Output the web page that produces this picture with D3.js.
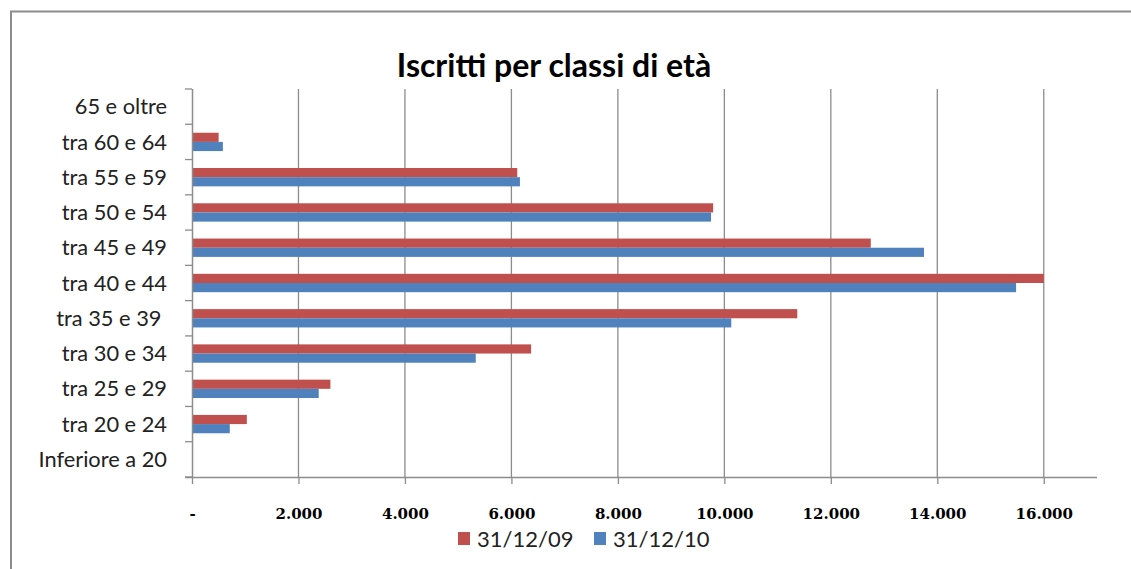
<!DOCTYPE html>
<html>
<head>
<meta charset="utf-8">
<script src="https://cdn.jsdelivr.net/npm/d3@7"></script>
<style>
  html, body { margin: 0; padding: 0; background: #ffffff; overflow: hidden; }
  svg { display: block; }
</style>
</head>
<body>
<svg id="chart" width="1131" height="569"></svg>
<script>
// ---- data ----
const categories = ["65 e oltre", "tra 60 e 64", "tra 55 e 59", "tra 50 e 54", "tra 45 e 49",
  "tra 40 e 44", "tra 35 e 39 ", "tra 30 e 34", "tra 25 e 29", "tra 20 e 24", "Inferiore a 20"];
const seriesNames = ["31/12/09", "31/12/10"];
const values2009 = [0, 500, 6110, 9790, 12750, 16000, 11370, 6370, 2600, 1030, 0];
const values2010 = [0, 580, 6160, 9750, 13750, 15480, 10130, 5330, 2380, 710, 0];
const xTicks = [0, 2000, 4000, 6000, 8000, 10000, 12000, 14000, 16000];
const xTickLabels = ["-", "2.000", "4.000", "6.000", "8.000", "10.000", "12.000", "14.000", "16.000"];
const title = "Iscritti per classi di età";
const colors = ["#C0504D", "#4F81BD"];

(function () {
const svg = d3.select("#chart");

// frame (only left and top edges visible in the picture)
svg.append("path").attr("d", "M11,569V11.5H1131")
  .attr("fill", "none").attr("stroke", "#8c8c8c").attr("stroke-width", 2);

const pLeft = 192, pRight = 1097, pTop = 89, pBottom = 477;

const x = d3.scaleLinear().domain([0, 17000]).range([pLeft, pRight]);
const y = d3.scaleBand().domain(categories).range([pTop, pBottom]).paddingInner(0.48).paddingOuter(0.24);
const ySub = d3.scaleBand().domain(seriesNames).range([0, y.bandwidth()]);
const yCat = d3.scaleBand().domain(categories).range([pTop, pBottom]);

// gridlines
svg.append("g").selectAll("line").data(xTicks.slice(1)).join("line")
  .attr("x1", d => x(d)).attr("x2", d => x(d))
  .attr("y1", pTop).attr("y2", pBottom)
  .attr("stroke", "#8c8c8c").attr("stroke-width", 1.3);

// bars
const rows = categories.map((c, i) => ({ c, vals: [values2009[i], values2010[i]] }));
const g = svg.append("g");
rows.forEach(r => {
  r.vals.forEach((v, j) => {
    if (v <= 0) return;
    g.append("rect")
      .attr("x", x(0))
      .attr("y", y(r.c) + ySub(seriesNames[j]))
      .attr("width", x(v) - x(0))
      .attr("height", ySub.bandwidth())
      .attr("fill", colors[j]);
  });
});

// x axis
const xAxis = d3.axisBottom(x).tickValues(xTicks).tickSize(7).tickFormat((d, i) => xTickLabels[i]);
const gx = svg.append("g").attr("transform", `translate(0,${pBottom})`).call(xAxis);
gx.select(".domain").attr("d", `M${pLeft - 7},0.5H${pRight}`).attr("stroke", "#8c8c8c").attr("stroke-width", 1.5);
gx.selectAll(".tick line").attr("stroke", "#8c8c8c").attr("stroke-width", 1.3);
gx.selectAll(".tick text").attr("dy", 0).attr("y", 42)
  .attr("font-family", "'DejaVu Serif', serif").attr("font-weight", "bold")
  .attr("font-size", 15).attr("fill", "#000");

// y axis
const yAxis = d3.axisLeft(yCat).tickSize(0).tickPadding(25);
const gy = svg.append("g").attr("transform", `translate(${pLeft},0)`).call(yAxis);
gy.select(".domain").attr("d", `M0.5,${pTop}V${pBottom}`).attr("stroke", "#8c8c8c").attr("stroke-width", 1.5);
gy.selectAll(".tick text").attr("font-family", "Lato, 'Open Sans', sans-serif")
  .attr("font-size", 21.8).attr("fill", "#222").attr("dy", "0.35em")
  .style("white-space", "pre");

// category boundary ticks
const bounds = categories.map(c => yCat(c)).concat([pBottom]);
svg.append("g").selectAll("line").data(bounds).join("line")
  .attr("x1", pLeft - 7).attr("x2", pLeft).attr("y1", d => d).attr("y2", d => d)
  .attr("stroke", "#8c8c8c").attr("stroke-width", 1.3);

// title
svg.append("text").attr("x", 554).attr("y", 77).attr("text-anchor", "middle")
  .attr("font-family", "Lato, 'Open Sans', sans-serif").attr("font-weight", "bold")
  .attr("font-size", 32).attr("fill", "#000").text(title);

// legend
const legend = svg.append("g");
const legendX = [458, 594];
seriesNames.forEach((s, i) => {
  legend.append("rect").attr("x", legendX[i]).attr("y", 532).attr("width", 12).attr("height", 13)
    .attr("fill", colors[i]);
  legend.append("text").attr("x", legendX[i] + 19).attr("y", 547)
    .attr("font-family", "Lato, 'Open Sans', sans-serif").attr("font-size", 22).attr("fill", "#222")
    .text(s);
});
})();
</script>
</body>
</html>
